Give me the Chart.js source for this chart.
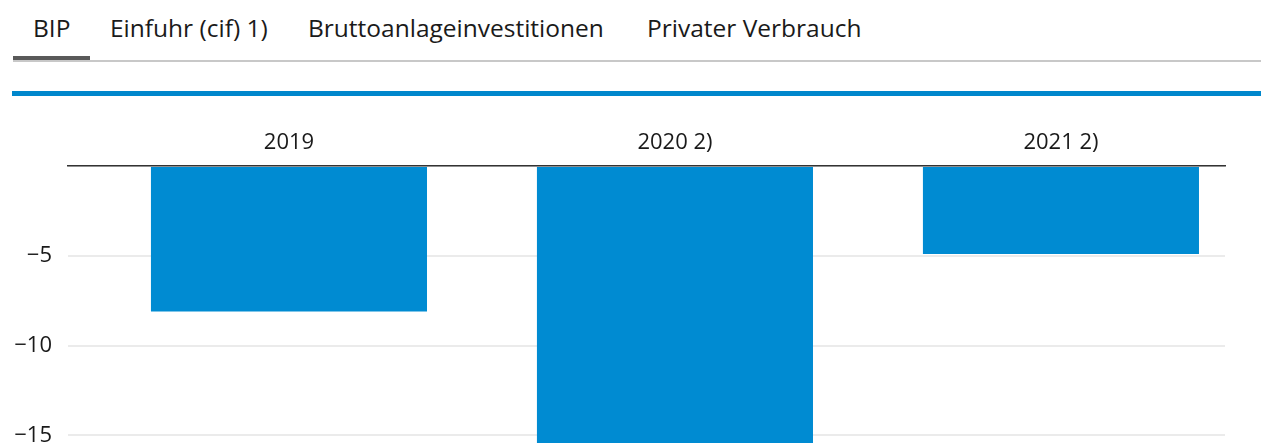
<!DOCTYPE html>
<html>
<head>
<meta charset="utf-8">
<script src="https://cdn.jsdelivr.net/npm/chart.js@4.4.0/dist/chart.umd.min.js"></script>
<style>
  html, body { margin:0; padding:0; width:1261px; height:443px; overflow:hidden; background:#fff; font-family:"Open Sans", sans-serif; }
  .tab { position:absolute; top:12px; font-size:24.5px; color:#1a1a1a; white-space:nowrap; line-height:32px; }
  #tabline { position:absolute; left:13px; top:60px; width:1248px; height:2px; background:#c8c8c8; }
  #active { position:absolute; left:13px; top:56px; width:77px; height:4px; background:#595959; }
  #blue { position:absolute; left:12px; top:91px; width:1249px; height:5px; background:#0087cc; }
  #wrap { position:absolute; left:0; top:100px; width:1261px; height:430px; }
</style>
</head>
<body>
<span class="tab" style="left:33px">BIP</span>
<span class="tab" style="left:110px">Einfuhr (cif) 1)</span>
<span class="tab" style="left:308px">Bruttoanlageinvestitionen</span>
<span class="tab" style="left:647px">Privater Verbrauch</span>
<div id="tabline"></div>
<div id="active"></div>
<div id="blue"></div>
<div id="wrap"><canvas id="c"></canvas></div>
<script>
const categories = ["2019", "2020 2)", "2021 2)"];
const values = [-8.1, -15.5, -4.9];
const yTicks = [-15, -10, -5, 0];

const fontFam = '"Open Sans", sans-serif';
new Chart(document.getElementById('c'), {
  type: 'bar',
  data: {
    datasets: [{
      data: values.map((v, i) => ({ x: i, y: v })),
      backgroundColor: '#008bd2',
      borderWidth: 0,
      barPercentage: 0.894,
      categoryPercentage: 0.8
    }]
  },
  options: {
    responsive: true,
    maintainAspectRatio: false,
    animation: false,
    events: [],
    layout: { padding: { top: 0, left: 0, right: 36, bottom: 8 } },
    plugins: { legend: { display: false }, tooltip: { enabled: false } },
    scales: {
      x: {
        type: 'linear',
        position: 'top',
        offset: false,
        min: -0.5725,
        max: 2.425,
        afterBuildTicks: s => { s.ticks = categories.map((c, i) => ({ value: i })); },
        afterFit: s => { s.height = 66; },
        grid: { display: false, drawTicks: false },
        border: { display: true, color: '#333333', width: 1.6 },
        ticks: {
          padding: 10,
          maxRotation: 0,
          autoSkip: false,
          color: '#1a1a1a',
          font: { family: fontFam, size: 22 },
          callback: v => categories[v] ?? ''
        }
      },
      y: {
        min: -18.65,
        max: 0,
        afterBuildTicks: s => { s.ticks = yTicks.map(v => ({ value: v })); },
        afterFit: s => { s.width = 68; },
        grid: { color: '#ebebeb', lineWidth: 2, drawTicks: false },
        border: { display: false },
        ticks: {
          padding: 16,
          color: '#1a1a1a',
          font: { family: fontFam, size: 22 },
          callback: v => v === 0 ? '' : '\u2212' + Math.abs(v)
        }
      }
    }
  }
});
</script>
</body>
</html>
